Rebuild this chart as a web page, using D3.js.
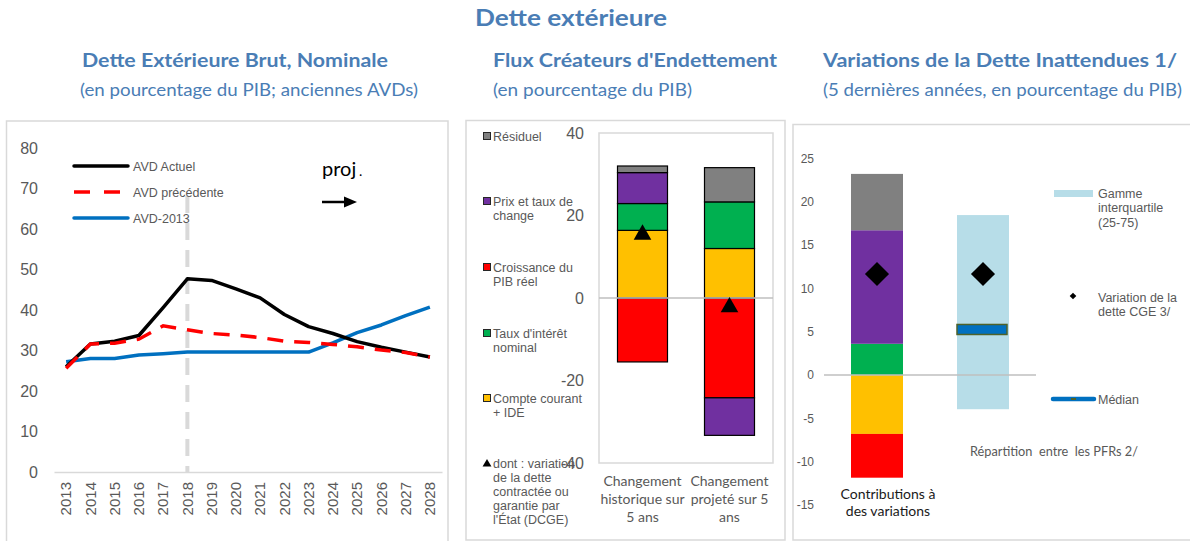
<!DOCTYPE html>
<html>
<head>
<meta charset="utf-8">
<script src="https://cdn.jsdelivr.net/npm/d3@7"></script>
<style>
  body { margin: 0; background: #fff; }
  svg { display: block; }
</style>
</head>
<body>
<svg id="chart" width="1190" height="541"></svg>
<script>
// ---- Dette extérieure brute, nominale (% du PIB) ----
const years = ["2013","2014","2015","2016","2017","2018","2019","2020",
               "2021","2022","2023","2024","2025","2026","2027","2028"];
const avdActuel     = [26.0, 31.6, 32.3, 33.7, 40.6, 47.7, 47.3, 45.2, 43.0, 38.9, 35.9, 34.2, 32.2, 30.8, 29.6, 28.4];
const avdPrecedente = [25.6, 31.6, 31.8, 32.8, 36.1, 35.1, 34.2, 33.8, 33.2, 32.3, 32.0, 31.5, 30.9, 30.1, 29.5, 28.4];
const avd2013       = [27.2, 28.0, 28.0, 28.9, 29.2, 29.6, 29.6, 29.6, 29.6, 29.6, 29.6, 31.9, 34.4, 36.3, 38.6, 40.7];
const lineTicks = [0, 10, 20, 30, 40, 50, 60, 70, 80];
const projYear = "2018";

// ---- Flux créateurs d'endettement (% du PIB) ----
const fluxCategories = ["Changement historique sur 5 ans", "Changement projeté sur 5 ans"];
const fluxCategoryLines = [["Changement", "historique sur", "5 ans"], ["Changement", "projeté sur 5", "ans"]];
const fluxCroissance = [-15.5, -24.2];
const fluxCompte     = [16.4, 12.0];
const fluxTaux       = [6.5, 11.3];
const fluxPrix       = [7.5, -9.1];
const fluxResiduel   = [1.6, 8.3];
const fluxDCGE       = [16.0, -1.6];
const fluxTicks = [-40, -20, 0, 20, 40];

// ---- Variations de la dette inattendues (5 dernières années, % du PIB) ----
const contribCompte     = [-6.8];
const contribCroissance = [-5.05];
const contribTaux       = [3.6];
const contribPrix       = [13.1];
const contribResiduel   = [6.5];
const variationCGE      = [11.65, 11.65];
const pfrRange  = [-3.95, 18.45];
const pfrMedian = 5.25;
const inattTicks = [-15, -10, -5, 0, 5, 10, 15, 20, 25];

// ---- styles ----
const C = {
  title: "#4a7db5",
  text: "#595959",
  frame: "#d9d9d9",
  black: "#000000",
  red: "#ff0000",
  blue: "#0070c0",
  gray: "#808080",
  purple: "#7030a0",
  green: "#00b050",
  yellow: "#ffc000",
  lightBlue: "#b7dde8",
  olive: "#4f6228"
};
const ARIAL = "'Liberation Sans', Arial, sans-serif";
const HUMAN = "Lato, 'Open Sans', sans-serif";
const plainNum = d => String(d);   // hyphen-minus for negative ticks

const svg = d3.select("#chart");

function addText(g, x, y, str, opts) {
  const t = g.append("text").attr("x", x).attr("y", y).text(str)
    .attr("font-family", opts.family || HUMAN)
    .attr("font-size", opts.size)
    .attr("font-weight", opts.weight || "normal")
    .attr("fill", opts.fill || C.text)
    .attr("text-anchor", opts.anchor || "start");
  if (opts.len) t.attr("textLength", opts.len).attr("lengthAdjust", "spacingAndGlyphs");
  return t;
}

// ---- titles ----
addText(svg, 475, 26, "Dette extérieure", {size: 23, weight: "bold", fill: C.title, len: 192});
addText(svg, 82, 67, "Dette Extérieure Brut, Nominale", {size: 18, weight: "bold", fill: C.title, len: 306});
addText(svg, 80, 96, "(en pourcentage du PIB; anciennes AVDs)", {size: 18, fill: C.title, len: 338});
addText(svg, 493, 67, "Flux Créateurs d'Endettement", {size: 18, weight: "bold", fill: C.title, len: 284});
addText(svg, 493, 96, "(en pourcentage du PIB)", {size: 18, fill: C.title, len: 199});
addText(svg, 823, 67, "Variations de la Dette Inattendues 1/", {size: 18, weight: "bold", fill: C.title, len: 354});
addText(svg, 823, 96, "(5 dernières années, en pourcentage du PIB)", {size: 18, fill: C.title, len: 359});

// ---- panel frames ----
[[6.5, 121, 441.5, 430], [466, 120.5, 319, 419.5], [793, 124.5, 400, 415.5]].forEach(r => {
  svg.append("rect").attr("x", r[0]).attr("y", r[1]).attr("width", r[2]).attr("height", r[3])
    .attr("fill", "none").attr("stroke", C.frame).attr("stroke-width", 1.5);
});

function styleAxis(g, size, family) {
  g.attr("font-family", family || ARIAL).attr("font-size", size);
  g.selectAll("text").attr("fill", C.text);
}

// =========== Panel 1: lines ===========
{
  const g = svg.append("g");
  const x = d3.scaleBand().domain(years).range([54, 442]);
  const y = d3.scaleLinear().domain([0, 80]).range([472, 148]);
  const cx = d => x(d) + x.bandwidth() / 2;

  g.append("g").attr("transform", "translate(54,0)")
    .call(d3.axisLeft(y).tickValues(lineTicks).tickFormat(plainNum).tickSize(0).tickPadding(16))
    .call(a => a.select(".domain").remove())
    .call(a => styleAxis(a, 16));

  const xa = g.append("g").attr("transform", "translate(0,472)")
    .call(d3.axisBottom(x).tickSize(0).tickSizeOuter(0))
    .call(a => styleAxis(a, 15));
  xa.select(".domain").attr("stroke", C.frame).attr("stroke-width", 1.5);
  xa.selectAll("text").attr("transform", "rotate(-90)")
    .attr("x", -10).attr("y", 0).attr("dy", "0.35em").attr("text-anchor", "end");

  // projection marker
  g.append("line").attr("x1", cx(projYear)).attr("x2", cx(projYear))
    .attr("y1", 196).attr("y2", y(0))
    .attr("stroke", C.frame).attr("stroke-width", 4).attr("stroke-dasharray", "17,10");

  const line = d3.line().x((d, i) => cx(years[i])).y(d => y(d));
  g.append("path").datum(avd2013).attr("d", line).attr("fill", "none")
    .attr("stroke", C.blue).attr("stroke-width", 3.5).attr("stroke-linejoin", "round");
  g.append("path").datum(avdActuel).attr("d", line).attr("fill", "none")
    .attr("stroke", C.black).attr("stroke-width", 3.5).attr("stroke-linejoin", "round");
  g.append("path").datum(avdPrecedente).attr("d", line).attr("fill", "none")
    .attr("stroke", C.red).attr("stroke-width", 3.5).attr("stroke-dasharray", "16,11");

  const legend = [
    {label: "AVD Actuel", color: C.black, dash: null, yy: 166},
    {label: "AVD précédente", color: C.red, dash: "16,14", yy: 192},
    {label: "AVD-2013", color: C.blue, dash: null, yy: 218}
  ];
  legend.forEach(l => {
    g.append("line").attr("x1", 74).attr("x2", 128).attr("y1", l.yy).attr("y2", l.yy)
      .attr("stroke", l.color).attr("stroke-width", 3.5)
      .attr("stroke-linecap", l.dash ? "butt" : "round")
      .attr("stroke-dasharray", l.dash);
    addText(g, 133, l.yy + 4.5, l.label, {family: ARIAL, size: 12.5});
  });

  addText(g, 322, 176, "proj", {size: 20, fill: "#000"});
  addText(g, 359, 176, ".", {size: 14, fill: "#000"});
  g.append("line").attr("x1", 322).attr("x2", 347).attr("y1", 202).attr("y2", 202)
    .attr("stroke", "#000").attr("stroke-width", 2.5);
  g.append("path").attr("d", "M344,196.5 L357,202 L344,207.5 Z").attr("fill", "#000");
}

// =========== Panel 2: stacked flux ===========
{
  const g = svg.append("g");
  const x = d3.scaleBand().domain(fluxCategories).range([599, 773]);
  const y = d3.scaleLinear().domain([-40, 40]).range([463, 133]);
  const barW = 50;

  g.append("rect").attr("x", 599).attr("y", 133).attr("width", 174).attr("height", 330)
    .attr("fill", "none").attr("stroke", C.frame).attr("stroke-width", 1.5);

  g.append("g").attr("transform", "translate(599,0)")
    .call(d3.axisLeft(y).tickValues(fluxTicks).tickFormat(plainNum).tickSize(0).tickPadding(15))
    .call(a => a.select(".domain").remove())
    .call(a => styleAxis(a, 16));

  const rows = fluxCategories.map((c, i) => ({
    cat: c, croissance: fluxCroissance[i], compte: fluxCompte[i],
    taux: fluxTaux[i], prix: fluxPrix[i], residuel: fluxResiduel[i]
  }));
  const keys = ["croissance", "compte", "taux", "prix", "residuel"];
  const colors = {croissance: C.red, compte: C.yellow, taux: C.green, prix: C.purple, residuel: C.gray};
  const stacked = d3.stack().keys(keys).offset(d3.stackOffsetDiverging)(rows);

  stacked.forEach(s => {
    g.selectAll(null).data(s).join("rect")
      .attr("x", d => x(d.data.cat) + x.bandwidth() / 2 - barW / 2)
      .attr("width", barW)
      .attr("y", d => y(Math.max(d[0], d[1])))
      .attr("height", d => Math.abs(y(d[0]) - y(d[1])))
      .attr("fill", colors[s.key])
      .attr("stroke", "#000").attr("stroke-width", 1.2);
  });

  g.append("line").attr("x1", 599).attr("x2", 773).attr("y1", y(0)).attr("y2", y(0))
    .attr("stroke", "#bfbfbf").attr("stroke-width", 1.5);

  // triangles, centred on their bounding box
  const triSize = 135;
  const triR = Math.sqrt(triSize / (3 * Math.sqrt(3)));
  const tri = d3.symbol().type(d3.symbolTriangle).size(triSize);
  g.selectAll(null).data(fluxDCGE).join("path")
    .attr("d", tri)
    .attr("transform", (d, i) => `translate(${x(fluxCategories[i]) + x.bandwidth() / 2},${y(d) + triR / 2})`)
    .attr("fill", "#000");

  fluxCategoryLines.forEach((lines, i) => {
    lines.forEach((ln, j) => {
      addText(g, x(fluxCategories[i]) + x.bandwidth() / 2, 486 + j * 18, ln,
        {size: 14, anchor: "middle"});
    });
  });

  const legend = [
    {lines: ["Résiduel"], color: C.gray, y0: 136},
    {lines: ["Prix et taux de", "change"], color: C.purple, y0: 201},
    {lines: ["Croissance du", "PIB réel"], color: C.red, y0: 267},
    {lines: ["Taux d'intérêt", "nominal"], color: C.green, y0: 333},
    {lines: ["Compte courant", "+ IDE"], color: C.yellow, y0: 398},
    {lines: ["dont : variation", "de la dette", "contractée ou", "garantie par", "l'État (DCGE)"], color: null, y0: 463}
  ];
  legend.forEach(l => {
    if (l.color) {
      g.append("rect").attr("x", 483.5).attr("y", l.y0 - 3.5).attr("width", 7).attr("height", 7)
        .attr("fill", l.color).attr("stroke", "#262626").attr("stroke-width", 1);
    } else {
      g.append("path").attr("d", d3.symbol().type(d3.symbolTriangle).size(34)())
        .attr("transform", `translate(487,${l.y0 + 1})`).attr("fill", "#000");
    }
    l.lines.forEach((ln, j) => addText(g, 493, l.y0 + 4.5 + j * 14, ln, {family: ARIAL, size: 12.5}));
  });
}

// =========== Panel 3: unexpected changes ===========
{
  const g = svg.append("g");
  const cats = ["Contributions à des variations", "Répartition entre les PFRs 2/"];
  const x = d3.scaleBand().domain(cats).range([824, 1036]);
  const y = d3.scaleLinear().domain([-15, 25]).range([505, 158.3]);
  const barW = 52;
  const cx = c => x(c) + x.bandwidth() / 2;

  g.append("g").attr("transform", "translate(824,0)")
    .call(d3.axisLeft(y).tickValues(inattTicks).tickFormat(plainNum).tickSize(0).tickPadding(10))
    .call(a => a.select(".domain").remove())
    .call(a => styleAxis(a, 12));

  const rows = [{cat: cats[0], compte: contribCompte[0], croissance: contribCroissance[0],
                 taux: contribTaux[0], prix: contribPrix[0], residuel: contribResiduel[0]}];
  const keys = ["compte", "croissance", "taux", "prix", "residuel"];
  const colors = {croissance: C.red, compte: C.yellow, taux: C.green, prix: C.purple, residuel: C.gray};
  const stacked = d3.stack().keys(keys).offset(d3.stackOffsetDiverging)(rows);
  stacked.forEach(s => {
    g.selectAll(null).data(s).join("rect")
      .attr("x", d => cx(d.data.cat) - barW / 2)
      .attr("width", barW)
      .attr("y", d => y(Math.max(d[0], d[1])))
      .attr("height", d => Math.abs(y(d[0]) - y(d[1])))
      .attr("fill", colors[s.key]);
  });

  // interquartile range of PFRs
  g.append("rect").attr("x", cx(cats[1]) - barW / 2).attr("width", barW)
    .attr("y", y(pfrRange[1])).attr("height", y(pfrRange[0]) - y(pfrRange[1]))
    .attr("fill", C.lightBlue);

  g.append("line").attr("x1", 824).attr("x2", 1036).attr("y1", y(0)).attr("y2", y(0))
    .attr("stroke", "#bfbfbf").attr("stroke-width", 1.5);

  g.append("rect").attr("x", cx(cats[1]) - 26).attr("width", 50)
    .attr("y", y(pfrMedian) - 5).attr("height", 10)
    .attr("fill", C.blue).attr("stroke", C.olive).attr("stroke-width", 1.5);

  const diamond = d3.symbol().type(d3.symbolSquare).size(290);
  g.selectAll(null).data(variationCGE).join("path")
    .attr("d", diamond)
    .attr("transform", (d, i) => `translate(${cx(cats[i])},${y(d)}) rotate(45)`)
    .attr("fill", "#000");

  addText(g, 888, 499, "Contributions à", {size: 14, fill: "#1a1a1a", anchor: "middle"});
  addText(g, 888, 516, "des variations", {size: 14, fill: "#1a1a1a", anchor: "middle"});
  addText(g, 970, 456, "Répartition  entre  les PFRs 2/", {size: 13.5, len: 168}).attr("xml:space", "preserve");

  // legend
  g.append("rect").attr("x", 1054).attr("y", 190).attr("width", 39).attr("height", 7).attr("fill", C.lightBlue);
  ["Gamme", "interquartile", "(25-75)"].forEach((ln, j) =>
    addText(g, 1098, 197.5 + j * 14.5, ln, {family: ARIAL, size: 12.5}));
  g.append("path").attr("d", d3.symbol().type(d3.symbolSquare).size(22)())
    .attr("transform", "translate(1073,296) rotate(45)").attr("fill", "#000");
  ["Variation de la", "dette CGE 3/"].forEach((ln, j) =>
    addText(g, 1098, 301.5 + j * 14, ln, {family: ARIAL, size: 12.5}));
  g.append("line").attr("x1", 1053).attr("x2", 1094).attr("y1", 399).attr("y2", 399)
    .attr("stroke", C.blue).attr("stroke-width", 4.5).attr("stroke-linecap", "round");
  g.append("rect").attr("x", 1071).attr("y", 398).attr("width", 5).attr("height", 2).attr("fill", C.olive);
  addText(g, 1098, 404, "Médian", {family: ARIAL, size: 12.5});
}
</script>
</body>
</html>
